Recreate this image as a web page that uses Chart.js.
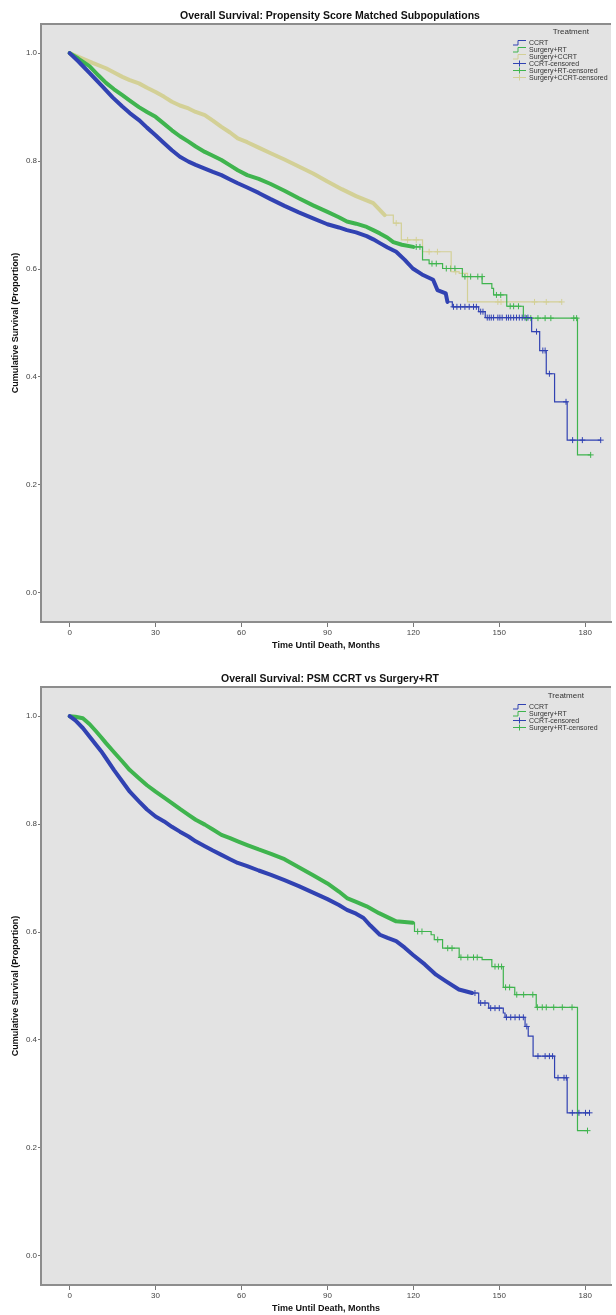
<!DOCTYPE html>
<html>
<head>
<meta charset="utf-8">
<script src="https://cdn.jsdelivr.net/npm/chart.js@4.4.1/dist/chart.umd.min.js"></script>
<style>
  body { margin: 0; width: 616px; height: 1315px; overflow: hidden; background: #fff; font-family: "Liberation Sans", Arial, sans-serif; }
  .panel { position: absolute; left: 0; width: 616px; height: 652px; }
  .title { position: absolute; left: 80px; width: 500px; text-align: center; font-weight: bold; font-size: 10.5px; line-height: 12px; color: #111; }
  .legend { position: absolute; left: 512px; font-size: 7px; line-height: 7px; color: #333; }
  .legend .lh { font-size: 8px; line-height: 10px; text-align: center; padding-left: 22px; margin-bottom: 2px; }
  .legend .li { display: flex; align-items: center; height: 7px; white-space: nowrap; }
  .legend svg { margin-right: 2px; flex: none; }
</style>
</head>
<body>
<div class="panel" style="top:0px">
  <canvas id="km1" width="616" height="652"></canvas>
  <div class="title" style="top:9px">Overall Survival: Propensity Score Matched Subpopulations</div>
  <div class="legend" id="legend1" style="top:27px"></div>
</div>
<div class="panel" style="top:663px">
  <canvas id="km2" width="616" height="652"></canvas>
  <div class="title" style="top:9px">Overall Survival: PSM CCRT vs Surgery+RT</div>
  <div class="legend" id="legend2" style="top:28px"></div>
</div>
<script>
// --- DATA (months, cumulative survival) ---
const xTicks = [0, 30, 60, 90, 120, 150, 180];
const yTicks = [0, 0.2, 0.4, 0.6, 0.8, 1.0];

// chart 1: propensity score matched subpopulations
const ccrtTime1 = [0, 3, 7, 11.5, 15, 18.4, 21, 24.2, 27, 30, 33, 35.7, 38.5, 41.5, 44, 47.2, 50, 53, 56, 58.7, 62, 66, 70, 75, 80, 85, 90, 94, 96.8, 100, 103.7, 106, 108.3, 111, 114, 117, 119.8, 123, 126.9, 128.4, 131.3, 131.9, 133.6, 142.8, 145.1, 161.3, 164.1, 166.4, 169.3, 173.7, 185.4];
const ccrtSurv1 = [1.0, 0.985, 0.963, 0.938, 0.918, 0.901, 0.889, 0.876, 0.862, 0.848, 0.833, 0.82, 0.808, 0.799, 0.793, 0.786, 0.78, 0.774, 0.766, 0.759, 0.751, 0.741, 0.73, 0.717, 0.705, 0.694, 0.683, 0.677, 0.672, 0.668, 0.661, 0.655, 0.648, 0.64, 0.632, 0.617, 0.601, 0.59, 0.58, 0.561, 0.555, 0.539, 0.53, 0.521, 0.51, 0.484, 0.449, 0.406, 0.354, 0.283, 0.283];
const rtTime1 = [0, 3, 6.9, 10, 12.7, 15.5, 18.4, 21, 24.2, 27, 30, 33, 35.7, 38.5, 41.5, 44, 47.2, 50, 53, 56, 58.7, 62, 66, 70, 75, 80, 85, 90, 94, 96.8, 100, 103.7, 106, 108.3, 111, 113, 116, 120, 123.2, 125.5, 130.2, 137.1, 144.0, 147.4, 148.0, 152.6, 158.4, 177.3, 181.9];
const rtSurv1 = [1.0, 0.99, 0.976, 0.959, 0.945, 0.933, 0.922, 0.912, 0.9, 0.891, 0.882, 0.869, 0.857, 0.846, 0.836, 0.827, 0.817, 0.81, 0.802, 0.792, 0.783, 0.774, 0.767, 0.758, 0.745, 0.731, 0.718, 0.706, 0.696, 0.688, 0.684, 0.678, 0.672, 0.666, 0.658, 0.65, 0.645, 0.641, 0.617, 0.61, 0.601, 0.586, 0.573, 0.564, 0.552, 0.531, 0.509, 0.2556, 0.2556];
const sccrtTime1 = [0, 4.5, 8, 12.7, 15.5, 18.4, 21, 24.2, 27, 30, 33, 35.7, 38.5, 41.5, 44, 47.2, 50, 53, 56, 58.7, 62, 66, 70, 75, 80, 85, 90, 95, 100, 106, 110, 113, 115.8, 123.2, 133.2, 136, 138.9, 171.8];
const sccrtSurv1 = [1.0, 0.99, 0.982, 0.972, 0.964, 0.956, 0.95, 0.944, 0.936, 0.928, 0.919, 0.91, 0.903, 0.8975, 0.891, 0.885, 0.875, 0.8635, 0.853, 0.842, 0.835, 0.825, 0.815, 0.803, 0.79, 0.777, 0.762, 0.748, 0.735, 0.722, 0.70, 0.685, 0.654, 0.632, 0.595, 0.592, 0.539, 0.539];

const ccrtCensT1 = [134, 135.2, 136.5, 138, 139.5, 141, 142, 143.5, 144.3, 145.8, 146.5, 147.2, 148, 149.5, 150.2, 151, 152.5, 153.2, 154, 155, 156, 157, 158, 159, 160, 163, 165.2, 166, 167.5, 173.3, 175.6, 179, 185.4];
const ccrtCensS1 = [0.53, 0.53, 0.53, 0.53, 0.53, 0.53, 0.53, 0.521, 0.521, 0.51, 0.51, 0.51, 0.51, 0.51, 0.51, 0.51, 0.51, 0.51, 0.51, 0.51, 0.51, 0.51, 0.51, 0.51, 0.51, 0.484, 0.449, 0.449, 0.406, 0.354, 0.283, 0.283, 0.283];
const rtCensT1 = [121, 122.3, 126.5, 128, 131.5, 133, 134.5, 138, 140, 142.5, 144, 149, 150.5, 153.8, 155, 156.7, 159.5, 161, 163.5, 166, 168, 176, 177, 181.9];
const rtCensS1 = [0.641, 0.641, 0.61, 0.61, 0.601, 0.601, 0.601, 0.586, 0.586, 0.586, 0.586, 0.552, 0.552, 0.531, 0.531, 0.531, 0.509, 0.509, 0.509, 0.509, 0.509, 0.509, 0.509, 0.2556];
const sccrtCensT1 = [114, 118, 121, 125.5, 128.4, 134.8, 149.5, 150.6, 162.3, 166.4, 171.8];
const sccrtCensS1 = [0.685, 0.654, 0.654, 0.632, 0.632, 0.595, 0.539, 0.539, 0.539, 0.539, 0.539];

// chart 2: PSM CCRT vs Surgery+RT
const ccrtTime2 = [0, 2, 4.6, 7, 9.2, 11, 12.7, 15.5, 18.4, 21, 24.2, 27, 30, 33, 35.7, 38.5, 41.5, 44, 47.2, 50, 53, 56, 58.7, 62, 66, 70.3, 75, 80, 85, 90, 94, 96.8, 100, 102.6, 105, 108.3, 111, 114, 117, 119.8, 124, 127.9, 131.3, 135.9, 140.5, 142.8, 146.3, 151.4, 152, 159, 160.1, 161.8, 169.3, 173.7, 181.5];
const ccrtSurv2 = [1.0, 0.992, 0.978, 0.962, 0.947, 0.935, 0.922, 0.9, 0.879, 0.86, 0.842, 0.827, 0.814, 0.805, 0.795, 0.786, 0.777, 0.768, 0.759, 0.751, 0.743, 0.735, 0.728, 0.722, 0.714, 0.706, 0.696, 0.685, 0.673, 0.661, 0.65, 0.641, 0.634, 0.626, 0.612, 0.595, 0.589, 0.583, 0.571, 0.558, 0.54, 0.521, 0.509, 0.4935, 0.487, 0.4685, 0.459, 0.45, 0.442, 0.425, 0.407, 0.37, 0.33, 0.265, 0.265];
const rtTime2 = [0, 2, 4.6, 7, 9.2, 11, 12.7, 15.5, 18.4, 21, 24.2, 27, 30, 33, 35.7, 38.5, 41.5, 44, 47.2, 50, 53, 56, 58.7, 62, 66, 70.3, 75, 80, 85, 90, 94, 96.8, 100, 103.7, 108, 114, 119.8, 120.4, 126.2, 127.3, 130.2, 136, 144, 147.4, 151.4, 155.4, 162.9, 177.3, 180.8];
const rtSurv2 = [1.0, 0.999, 0.996, 0.985, 0.972, 0.961, 0.95, 0.933, 0.916, 0.9, 0.885, 0.872, 0.86, 0.849, 0.839, 0.828, 0.817, 0.808, 0.799, 0.79, 0.78, 0.774, 0.768, 0.761, 0.753, 0.745, 0.735, 0.72, 0.705, 0.69, 0.675, 0.663, 0.656, 0.6476, 0.635, 0.6198, 0.617, 0.601, 0.595, 0.586, 0.57, 0.553, 0.549, 0.536, 0.4975, 0.484, 0.4605, 0.232, 0.232];

const ccrtCensT2 = [141.5, 143.5, 145, 147, 148.5, 150, 152.5, 154, 155.5, 157, 158.4, 159.6, 163.5, 166, 167.5, 168.6, 170.5, 172.6, 173.4, 175.5, 177.8, 180.1, 181.5];
const ccrtCensS2 = [0.487, 0.4685, 0.4685, 0.459, 0.459, 0.459, 0.442, 0.442, 0.442, 0.442, 0.442, 0.425, 0.37, 0.37, 0.37, 0.37, 0.33, 0.33, 0.33, 0.265, 0.265, 0.265, 0.265];
const rtCensT2 = [121.5, 123, 128.5, 132, 133.5, 136.6, 139, 141, 142.3, 148.5, 149.7, 150.8, 152.2, 153.6, 156.1, 158.5, 161.7, 163.3, 165, 166.4, 169, 172, 175.4, 180.8];
const rtCensS2 = [0.601, 0.601, 0.586, 0.57, 0.57, 0.553, 0.553, 0.553, 0.553, 0.536, 0.536, 0.536, 0.4975, 0.4975, 0.484, 0.484, 0.484, 0.4605, 0.4605, 0.4605, 0.4605, 0.4605, 0.4605, 0.232];

// --- STYLE ---
const BLUE = '#3142b2';
const GREEN = '#3fb44e';
const KHAKI = '#d3d096';
const FONT = '"Liberation Sans", Arial, sans-serif';

const toPts = (ts, ss) => ts.map((t, i) => ({ x: t, y: ss[i] }));

// the early part has so many tiny steps and censor ticks that it reads as a thick band;
// the tail is a plain thin step line
const curve = (ts, ss, color, denseUntil) => {
    const pts = toPts(ts, ss);
    const cut = pts.findIndex(p => p.x > denseUntil);
    return [
        { type: 'line', data: pts.slice(0, cut), borderColor: color, borderWidth: 4,
          borderJoinStyle: 'round', borderCapStyle: 'round', pointRadius: 0, fill: false, tension: 0 },
        { type: 'line', data: pts.slice(cut - 1), borderColor: color, borderWidth: 1.2,
          stepped: 'before', pointRadius: 0, fill: false }
    ];
};
const censored = (ts, ss, color) => ({
    type: 'scatter', data: toPts(ts, ss),
    showLine: false, pointStyle: 'cross', pointRadius: 3,
    borderColor: color, borderWidth: 1
});

const bgPlugin = {
    id: 'plotBg',
    beforeDraw(chart) {
        const { ctx, chartArea: a } = chart;
        ctx.save();
        ctx.fillStyle = '#e3e3e3';
        ctx.fillRect(a.left, a.top, a.right - a.left, a.bottom - a.top);
        ctx.strokeStyle = '#8d8d8d';
        ctx.lineWidth = 2;
        ctx.beginPath();
        ctx.moveTo(a.left, a.top);
        ctx.lineTo(a.right, a.top);
        ctx.stroke();
        ctx.restore();
    }
};

const makeChart = (id, datasets) => new Chart(document.getElementById(id), {
    data: { datasets },
    plugins: [bgPlugin],
    options: {
        responsive: false, animation: false, devicePixelRatio: 1,
        layout: { padding: { top: 24, left: 0, right: 0, bottom: 0 } },
        plugins: { legend: { display: false }, title: { display: false }, tooltip: { enabled: false } },
        scales: {
            x: {
                type: 'linear', min: -10, max: 189,
                afterBuildTicks: s => { s.ticks = xTicks.map(v => ({ value: v })); },
                afterFit: s => { s.height = 30; },
                ticks: { color: '#444', font: { family: FONT, size: 8 }, padding: 1 },
                grid: { drawOnChartArea: false, tickLength: 5, color: '#777' },
                border: { color: '#8d8d8d', width: 2 },
                title: { display: true, text: 'Time Until Death, Months', color: '#111',
                         font: { family: FONT, size: 9, weight: 'bold' }, padding: { top: 0, bottom: 1 } }
            },
            y: {
                type: 'linear', min: -0.054, max: 1.054,
                afterBuildTicks: s => { s.ticks = yTicks.map(v => ({ value: v })); },
                afterFit: s => { s.width = 41; },
                ticks: { color: '#444', font: { family: FONT, size: 8 }, padding: 1,
                         callback: v => v.toFixed(1) },
                grid: { drawOnChartArea: false, tickLength: 3, color: '#777' },
                border: { color: '#8d8d8d', width: 2 },
                title: { display: true, text: 'Cumulative Survival (Proportion)', color: '#111',
                         font: { family: FONT, size: 9, weight: 'bold' }, padding: { top: 10, bottom: 0 } }
            }
        }
    }
});

// first dataset is drawn on top
makeChart('km1', [
    ...curve(ccrtTime1, ccrtSurv1, BLUE, 132),
    ...curve(rtTime1, rtSurv1, GREEN, 120),
    ...curve(sccrtTime1, sccrtSurv1, KHAKI, 112),
    censored(ccrtCensT1, ccrtCensS1, BLUE),
    censored(rtCensT1, rtCensS1, GREEN),
    censored(sccrtCensT1, sccrtCensS1, KHAKI)
]);

makeChart('km2', [
    ...curve(ccrtTime2, ccrtSurv2, BLUE, 141),
    ...curve(rtTime2, rtSurv2, GREEN, 120),
    censored(ccrtCensT2, ccrtCensS2, BLUE),
    censored(rtCensT2, rtCensS2, GREEN)
]);

// --- LEGENDS ---
const stepIcon = c => `<svg width="15" height="7"><path d="M1 6H6V1.5H14" stroke="${c}" stroke-width="1" fill="none"/></svg>`;
const censIcon = c => `<svg width="15" height="7"><path d="M1 3.5H14M7.5 0.5V6.5" stroke="${c}" stroke-width="1" fill="none"/></svg>`;
const renderLegend = (id, items) => {
    const el = document.getElementById(id);
    el.innerHTML = '<div class="lh">Treatment</div>' + items.map(([label, color, cens]) =>
        `<div class="li">${cens ? censIcon(color) : stepIcon(color)}<span>${label}</span></div>`).join('');
};
renderLegend('legend1', [
    ['CCRT', BLUE, false], ['Surgery+RT', GREEN, false], ['Surgery+CCRT', KHAKI, false],
    ['CCRT-censored', BLUE, true], ['Surgery+RT-censored', GREEN, true], ['Surgery+CCRT-censored', KHAKI, true]
]);
renderLegend('legend2', [
    ['CCRT', BLUE, false], ['Surgery+RT', GREEN, false],
    ['CCRT-censored', BLUE, true], ['Surgery+RT-censored', GREEN, true]
]);
</script>
</body>
</html>
